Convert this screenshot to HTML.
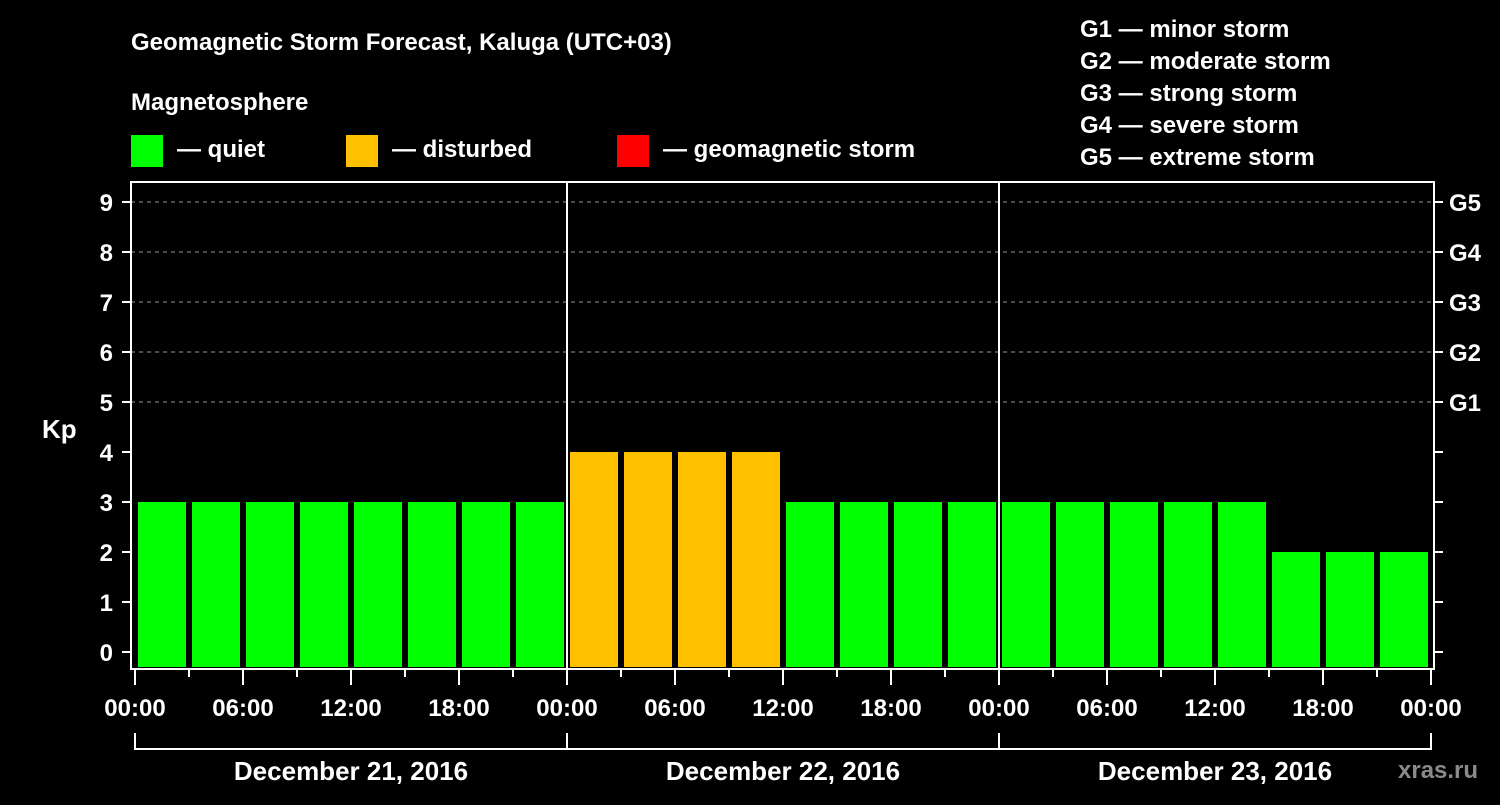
<!DOCTYPE html>
<html><head><meta charset="utf-8"><style>
body{margin:0;background:#000;width:1500px;height:800px;overflow:hidden;font-family:"Liberation Sans",Arial,sans-serif}
svg text{font-family:"Liberation Sans",Arial,sans-serif;font-weight:bold;fill:#fff}
</style></head><body>
<svg id="c" width="1500" height="800">
<text x="131" y="50" font-size="24">Geomagnetic Storm Forecast, Kaluga (UTC+03)</text>
<text x="131" y="110" font-size="24">Magnetosphere</text>
<g><rect x="131" y="135" width="32" height="32" fill="#00ff00"/><text x="177" y="157" font-size="24">— quiet</text></g>
<g><rect x="346" y="135" width="32" height="32" fill="#ffc000"/><text x="392" y="157" font-size="24">— disturbed</text></g>
<g><rect x="617" y="135" width="32" height="32" fill="#ff0000"/><text x="663" y="157" font-size="24">— geomagnetic storm</text></g>
<g font-size="24">
<text x="1080" y="37">G1 — minor storm</text><text x="1080" y="69">G2 — moderate storm</text><text x="1080" y="101">G3 — strong storm</text><text x="1080" y="133">G4 — severe storm</text><text x="1080" y="165">G5 — extreme storm</text>
</g>
<text x="42" y="438" font-size="26">Kp</text>
<text x="1398" y="778" font-size="24" fill="#888" style="fill:#8a8a8a">xras.ru</text>
<g id="grid"></g><g id="bars"></g><g id="axes"></g>
</svg>
<script>
const kpValues=[3,3,3,3,3,3,3,3,4,4,4,4,3,3,3,3,3,3,3,3,3,2,2,2];
const yTicks=[0,1,2,3,4,5,6,7,8,9];
const gLabels=["G1","G2","G3","G4","G5"];
const gLevels=[5,6,7,8,9];
const timeLabels=["00:00","06:00","12:00","18:00"];
const dayLabels=["December 21, 2016","December 22, 2016","December 23, 2016"];
const NS="http://www.w3.org/2000/svg";
const L=131,R=1434,T=182,B=669,X0=135,slotW=54;
const y=v=>652-v*50;
const x=i=>X0+i*slotW;
function mk(tag,attrs,parent){const e=document.createElementNS(NS,tag);for(const k in attrs)e.setAttribute(k,attrs[k]);document.getElementById(parent).appendChild(e);return e;}
yTicks.forEach(v=>{
 if(v>=5){const g=mk('line',{x1:L,x2:R,y1:y(v),y2:y(v),stroke:'#999','stroke-dasharray':'4,4','stroke-width':1},'grid');
 
 }
 const t=mk('line',{x1:122,x2:L,y1:y(v),y2:y(v),stroke:'#fff','stroke-width':2},'axes');
 
 
 const tr=mk('line',{x1:R,x2:1443,y1:y(v),y2:y(v),stroke:'#fff','stroke-width':2},'axes');
 
 
 const lb=mk('text',{x:113,y:y(v)+9,'font-size':24,'text-anchor':'end'},'axes');lb.textContent=v;
 
 
});
gLabels.forEach((g,i)=>{const t=mk('text',{x:1449,y:y(gLevels[i])+9,'font-size':24},'axes');t.textContent=g;
 
 });
kpValues.forEach((v,i)=>{
 const c=v>=5?'#ff0000':(v>=4?'#ffc000':'#00ff00');
 const b=mk('rect',{x:x(i)+3,y:y(v),width:48,height:667-y(v),fill:c},'bars');
 
 
});
[1,2].forEach(d=>{const l=mk('line',{x1:x(d*8),x2:x(d*8),y1:T,y2:B,stroke:'#fff','stroke-width':2},'axes');
 
 });
const fr=mk('rect',{x:L,y:T,width:R-L,height:B-T,fill:'none',stroke:'#fff','stroke-width':2},'axes');


for(let i=0;i<=24;i++){
 const t=mk('line',{x1:x(i),x2:x(i),y1:B,y2:i%2?677:685,stroke:'#fff','stroke-width':2},'axes');
 
 
 if(i%2===0){const lb=mk('text',{x:x(i),y:716,'font-size':24,'text-anchor':'middle'},'axes');
 lb.textContent=timeLabels[(i/2)%4];
 
 }
}
dayLabels.forEach((d,i)=>{
 const br=mk('path',{d:`M${x(i*8)},733V749H${x(i*8+8)}V733`,fill:'none',stroke:'#fff','stroke-width':2},'axes');
 
 
 const t=mk('text',{x:x(i*8+4),y:780,'font-size':26,'text-anchor':'middle'},'axes');t.textContent=d;
 
 
});
</script>
</body></html>
